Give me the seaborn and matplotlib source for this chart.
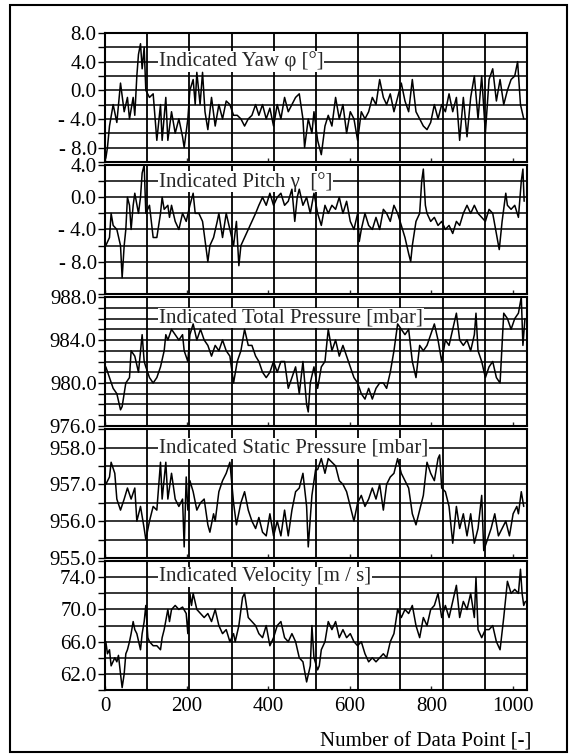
import numpy as np
import pandas as pd
import matplotlib
matplotlib.use("Agg")
import matplotlib.pyplot as plt
import seaborn as sns
from matplotlib.ticker import MultipleLocator, FixedLocator, FuncFormatter
from matplotlib.patches import Rectangle

# (data point, value) pairs
yaw = [(2, -9.5), (6, -8), (11, -5), (20, -2), (29, -4.5), (38, 1), (47, -3), (55, -1), (60, -4),
       (69, -1), (73, -3.5), (78, 2), (82, 5), (87, 6.5), (91, 3), (96, 6), (100, 0), (109, -1),
       (118, -0.5), (127, -7), (136, -2), (140, -7), (149, -1), (154, -7), (163, -3), (172, -6),
       (181, -4), (190, -6.5), (194, -8), (203, -4), (208, 0), (216, 1.5), (221, -2), (225, 2.5),
       (233, -2), (239, 2.5), (245, -3), (252, -5.5), (261, -1), (270, -5), (279, -2), (288, -4),
       (297, -1.5), (306, -2), (315, -3.5), (324, -3.5), (333, -4), (342, -5), (351, -4),
       (360, -3.5), (369, -2), (377, -3.5), (386, -2), (395, -4), (404, -2.5), (413, -5),
       (422, -2), (431, -4), (440, -1), (449, -3), (458, -2), (467, -1), (476, -0.5), (485, -4),
       (489, -8), (498, -4), (507, -6), (512, -3), (521, -7), (530, -9), (539, -5), (547, -3.5),
       (556, -5), (565, -1), (574, -4), (583, -2), (592, -6), (601, -3), (610, -4), (619, -7),
       (628, -3), (637, -4), (646, -3), (655, -1), (664, -2), (673, 1.5), (682, -1), (690, -2),
       (699, -0.5), (708, -3), (717, -1), (726, 1), (735, -1.5), (744, -3), (753, 1.5), (762, -3),
       (771, -4), (780, -5), (789, -5.5), (798, -4.5), (807, -2), (816, -4), (825, -2), (834, -3),
       (843, -0.5), (852, -3), (861, -1), (869, -7), (878, -1), (887, -6.5), (896, -1), (905, 2),
       (914, -4), (923, 2), (932, -6), (941, 1.5), (950, 3), (959, -1.5), (968, 1.5), (977, -2),
       (986, 0), (995, 1.5), (1004, 2), (1011, 4), (1018, -2), (1026, -4)]

pitch = [(2, -6), (11, -5), (15, -2), (20, -3.5), (29, -4), (38, -6), (42, -10), (47, -6), (51, -4),
         (55, 0), (60, -1), (64, -4), (69, -1), (73, 0.5), (82, -2), (87, 0), (91, 3), (96, 4),
         (100, -2), (109, -1), (118, -5), (127, -5), (136, -2), (140, 0), (145, -1.5), (154, -1),
         (158, -2.5), (163, -1), (172, -3), (181, -4), (190, -2), (199, -3), (208, -1), (216, 0.5),
         (221, -2), (230, -2), (239, -3), (248, -6.5), (252, -8), (257, -6), (266, -5), (275, -3),
         (279, -2), (288, -5), (297, -2), (306, -4), (315, -6), (322, -3), (328, -8.5), (333, -6),
         (342, -5), (351, -4), (360, -3), (369, -2), (377, -1), (386, 0), (395, -1), (404, 0.5),
         (413, -1), (422, 0), (431, 0.5), (440, -1), (449, -0.5), (458, 1), (465, -3), (471, 0),
         (476, 1), (485, -1), (494, 0), (503, -2), (512, 0.5), (521, -2), (530, -3.5), (539, -1),
         (547, -2), (556, -1), (565, -1.5), (574, 0), (583, -2), (592, -0.5), (601, -3), (610, -4),
         (619, -2), (623, -5.5), (628, -4), (637, -2), (646, -3.5), (655, -4), (664, -2.5),
         (673, -4), (682, -1.5), (690, -2), (699, -3), (708, -1), (717, -2), (726, -3.5), (735, -5),
         (744, -7), (749, -8), (753, -6), (762, -3), (771, -2), (776, 2), (780, 3.5), (785, -1),
         (789, -2), (798, -3), (807, -2.5), (816, -3.5), (825, -3), (834, -4), (843, -3.5),
         (852, -4.5), (861, -3), (869, -3.5), (878, -2), (887, -1), (896, -2), (905, -1), (914, -2),
         (923, -2.5), (932, -3), (941, -1.5), (950, -2), (959, -4.5), (966, -6.5), (973, -3),
         (982, 0.5), (986, -1), (995, -1.5), (1004, -1), (1013, -2.5), (1020, 2), (1024, 3.5),
         (1027, -0.5)]

total_p = [(2, 981.5), (11, 980.5), (20, 979.5), (29, 979), (38, 977.5), (42, 977.8), (51, 980),
           (60, 980.5), (64, 983), (73, 982.5), (82, 981), (91, 984.5), (96, 982), (100, 981.5),
           (109, 980.5), (118, 980), (127, 980.5), (136, 981.5), (145, 983), (149, 984.5),
           (154, 984), (163, 985), (172, 984.5), (181, 984), (190, 984.5), (194, 983), (203, 982),
           (208, 984.5), (216, 985.5), (225, 984), (234, 985), (243, 984), (252, 983.5),
           (261, 982.5), (270, 983.5), (279, 983), (288, 984), (297, 983), (306, 982.5), (315, 980),
           (324, 982), (333, 983), (342, 985), (351, 983.5), (360, 983.5), (369, 982.5), (377, 982),
           (386, 981), (395, 980.5), (404, 981), (413, 982), (422, 981), (431, 982), (440, 982),
           (449, 979.5), (458, 980.5), (467, 981.5), (476, 979), (485, 982), (494, 978),
           (498, 977.3), (503, 980), (512, 981.5), (521, 979.5), (530, 981.5), (539, 982),
           (547, 985), (556, 983), (565, 984), (574, 982.5), (583, 983.5), (592, 982.5),
           (601, 981.5), (610, 980.5), (619, 980), (628, 979), (637, 978.5), (646, 979.5),
           (655, 978.5), (664, 979.5), (673, 980), (682, 980), (690, 979.5), (699, 981), (708, 983),
           (717, 985.5), (726, 985), (735, 984.5), (744, 985), (753, 982), (762, 980.5),
           (771, 983.5), (780, 983), (789, 983.5), (798, 984.5), (807, 985.5), (816, 984),
           (825, 982), (834, 984), (843, 983.5), (852, 985), (861, 986.5), (869, 984), (878, 983.5),
           (887, 984), (896, 983), (905, 984.5), (909, 986.5), (914, 983), (923, 982), (932, 980.5),
           (941, 981.5), (950, 982), (959, 980.5), (968, 980), (977, 986.5), (986, 986), (995, 985),
           (1004, 986), (1013, 986.5), (1020, 988), (1024, 983.5), (1029, 986)]

static_p = [(2, 957), (11, 957.2), (15, 957.6), (24, 957.3), (29, 956.6), (38, 956.3), (47, 956.6),
            (55, 956.9), (64, 956.6), (73, 956.9), (78, 956.0), (87, 956.4), (96, 955.8),
            (100, 955.5), (109, 956), (118, 956.4), (127, 956.3), (136, 957.6), (140, 956.6),
            (149, 957.6), (154, 956.6), (163, 957.3), (172, 956.6), (181, 956.4), (190, 956.6),
            (194, 955.3), (199, 957.2), (203, 956.3), (208, 957.1), (216, 956.8), (225, 956.3),
            (234, 956.5), (243, 956.6), (252, 955.9), (257, 955.7), (266, 956.2), (270, 956),
            (279, 956.8), (288, 957.1), (297, 957.3), (306, 957.6), (315, 956.5), (322, 955.9),
            (333, 956.5), (342, 956.8), (351, 956.3), (360, 956), (369, 955.8), (377, 956.1),
            (386, 955.7), (395, 955.6), (404, 956.2), (413, 955.6), (422, 956.0), (431, 955.6),
            (440, 956.3), (449, 955.6), (458, 956.3), (467, 956.8), (476, 956.9), (485, 957.3),
            (494, 956.4), (498, 955.3), (507, 956.7), (516, 957.4), (521, 957.4), (530, 957.7),
            (539, 957.3), (547, 957.7), (556, 957.6), (565, 957.5), (574, 957.1), (583, 957.0),
            (592, 956.8), (601, 956.4), (610, 956.0), (619, 956.5), (628, 956.7), (637, 956.4),
            (646, 956.6), (655, 956.9), (664, 956.6), (673, 957.0), (682, 956.3), (690, 957),
            (699, 957.2), (708, 957.3), (717, 957.7), (726, 957.3), (735, 957.1), (744, 956.9),
            (753, 956.2), (762, 955.9), (771, 956.3), (780, 956.7), (789, 957.6), (798, 957.3),
            (807, 957.1), (816, 957.7), (820, 957.8), (825, 956.9), (834, 956.8), (843, 956.4),
            (852, 955.4), (861, 956.4), (869, 955.8), (878, 956.2), (887, 955.6), (896, 956.2),
            (905, 955.4), (914, 955.8), (923, 956.7), (928, 955.2), (937, 955.5), (946, 955.8),
            (955, 956.2), (964, 955.6), (973, 955.8), (982, 956.0), (991, 955.6), (1000, 956.2),
            (1009, 956.4), (1013, 956.2), (1020, 956.8), (1026, 956.4)]

velocity = [(2, 66), (6, 64.5), (11, 65), (15, 63), (24, 64), (29, 63.5), (33, 64.3), (38, 62),
            (42, 60.3), (47, 62), (51, 64.5), (55, 65), (60, 66), (64, 67), (69, 68.5), (73, 67.5),
            (78, 67), (87, 65), (91, 67), (96, 68.5), (100, 70.5), (105, 66.5), (109, 66),
            (118, 65.5), (127, 65.5), (136, 65), (140, 66.5), (145, 67.5), (154, 70), (158, 68.5),
            (163, 70), (172, 70.5), (181, 70), (190, 70.3), (199, 69.5), (203, 67), (208, 72),
            (212, 70.5), (216, 72), (225, 70), (234, 69.5), (243, 69), (252, 69.5), (261, 68.5),
            (270, 70), (279, 68), (288, 67), (297, 67.5), (306, 66), (315, 67), (319, 66), (328, 68),
            (337, 71.5), (342, 72), (351, 69), (360, 68.5), (369, 68), (377, 67), (386, 66.5),
            (395, 68), (404, 65.5), (413, 66.5), (422, 68), (431, 68.5), (440, 66.5), (449, 66),
            (458, 67), (467, 66), (476, 64), (485, 63.5), (494, 61), (503, 63), (507, 68), (512, 64),
            (521, 62.5), (525, 63), (530, 65), (539, 66), (547, 68.5), (556, 67.5), (565, 68.5),
            (574, 66.5), (583, 67.5), (592, 66.5), (601, 67), (610, 66), (619, 65.5), (628, 66),
            (637, 64.5), (646, 63.5), (655, 64), (664, 63.5), (673, 64), (682, 64.5), (690, 64),
            (699, 66), (708, 67), (717, 70), (726, 69), (735, 70), (744, 69.5), (753, 70.5),
            (762, 68), (771, 66.5), (780, 69), (789, 68), (798, 70), (807, 70.5), (816, 72),
            (825, 69), (834, 70.5), (843, 69), (852, 71), (861, 73), (869, 69), (878, 71), (887, 70),
            (896, 72), (905, 69), (909, 74), (914, 67.5), (923, 66.5), (932, 67.5), (941, 67.5),
            (950, 68), (959, 66), (968, 65), (977, 69), (986, 73.5), (995, 72), (1004, 72.5),
            (1013, 72), (1018, 75), (1022, 72), (1026, 70.5), (1030, 71)]

titles = ["Indicated Yaw \u03c6 [\u00b0]", "Indicated Pitch \u03b3  [\u00b0]",
          "Indicated Total Pressure [mbar]", "Indicated Static Pressure [mbar]",
          "Indicated Velocity [m / s]"]
ylims = [(-10, 8), (-12, 4), (976, 988), (955, 958.5), (60, 76)]
yticks = [[8, 4, 0, -4, -8], [4, 0, -4, -8], [988, 984, 980, 976],
          [958, 957, 956, 955], [74, 70, 66, 62]]
ysteps = [2, 2, 1, 0.5, 2]
title_y = [0.78, 0.87, 0.84, 0.85, 0.88]
xticks = [0, 200, 400, 600, 800, 1000]
series = [yaw, pitch, total_p, static_p, velocity]

sns.set_theme(style="white")
plt.rcParams['font.family'] = ['Liberation Serif', 'DejaVu Serif']
plt.rcParams['font.size'] = 15


def fmt(v, pos):
    return f"- {abs(v):.1f}" if v < 0 else f"{v:.1f}"


fig, axes = plt.subplots(5, 1, figsize=(5.72, 7.56), dpi=100, sharex=True)
fig.subplots_adjust(left=105 / 572, right=527 / 572, top=1 - 33 / 756,
                    bottom=1 - 690 / 756, hspace=0.025)

for ax, data, title, lim, ticks, step, ty in zip(axes, series, titles, ylims, yticks,
                                                  ysteps, title_y):
    df = pd.DataFrame(data, columns=["point", "value"])
    sns.lineplot(data=df, x="point", y="value", ax=ax, color="black", lw=1.1,
                 estimator=None, sort=False, zorder=4)
    ax.set_xlim(0, 1034)
    ax.set_ylim(*lim)
    ax.yaxis.set_major_locator(FixedLocator(ticks))
    ax.yaxis.set_major_formatter(FuncFormatter(fmt))
    ax.yaxis.set_minor_locator(MultipleLocator(step))
    ax.xaxis.set_major_locator(FixedLocator(xticks))
    ax.xaxis.set_minor_locator(MultipleLocator(103.4))
    ax.yaxis.grid(True, which="both", color="black", lw=1.1)
    ax.xaxis.grid(True, which="minor", color="black", lw=1.3)
    ax.xaxis.grid(False, which="major")
    ax.tick_params(axis="y", which="both", direction="out", length=5, width=1,
                   color="black", left=True, pad=1, labelsize=15, labelcolor="black")
    ax.tick_params(axis="x", which="major", direction="in", length=3, width=1,
                   bottom=True, labelsize=15, labelcolor="black", pad=5)
    ax.tick_params(axis="x", which="minor", length=0)
    for sp in ax.spines.values():
        sp.set_color("black")
        sp.set_linewidth(1.5)
    ax.set_xlabel("")
    ax.set_ylabel("")
    ax.text(0.128, ty, title, transform=ax.transAxes, fontsize=15, va="center",
            ha="left", zorder=3,
            bbox=dict(facecolor="white", edgecolor="none", pad=0.5))

axes[-1].set_xlabel("Number of Data Point [-]", fontsize=15, color="black")
axes[-1].xaxis.set_label_coords(1.01, -0.33)
axes[-1].xaxis.label.set_horizontalalignment("right")

fig.patches.append(Rectangle((10 / 572, 4 / 756), 557 / 572, 747 / 756,
                             transform=fig.transFigure, fill=False,
                             edgecolor="black", lw=1.5))

fig.savefig("out.png", dpi=100)
